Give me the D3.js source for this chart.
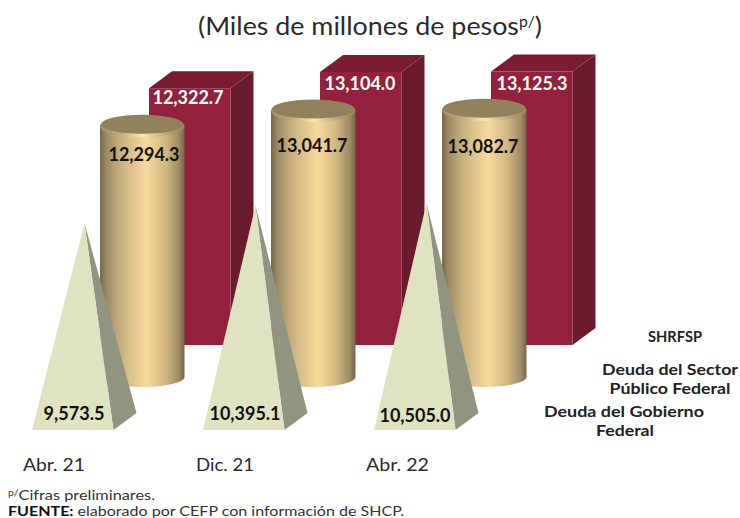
<!DOCTYPE html>
<html><head><meta charset="utf-8">
<script src="https://cdn.jsdelivr.net/npm/d3@7"></script>
<style>html,body{margin:0;background:#fff}svg{display:block}text{font-family:Lato,"Open Sans",sans-serif}</style>
</head><body><svg id="c" width="740" height="518"></svg>
<script>
const categories = ["Abr. 21","Dic. 21","Abr. 22"];
const shrfsp = [12322.7,13104.0,13125.3];
const dspf = [12294.3,13041.7,13082.7];
const dgf = [9573.5,10395.1,10505.0];
const fmt = d3.format(",.1f");
const svg = d3.select("#c");

const band = d3.scaleBand().domain(categories).range([32,545]).padding(0);
const yRed = d3.scaleLinear().domain([0,13125.3]).range([345,71.5]);
const yCyl = d3.scaleLinear().domain([0,13041.7]).range([377,109.5]);
const yPyr = d3.scaleLinear().domain([0,10505]).range([430,203]);

const defs = svg.append("defs");
const g = defs.append("linearGradient").attr("id","cyl");
[[0,"#75664a"],[.08,"#a08c64"],[.25,"#c9b27f"],[.55,"#fad89d"],[.78,"#d0b680"],[.93,"#a08c64"],[1,"#75664a"]]
  .forEach(s=>g.append("stop").attr("offset",s[0]).attr("stop-color",s[1]));
const rim = defs.append("linearGradient").attr("id","rim");
[[0,"#a08e66"],[.25,"#c2ab7c"],[.5,"#fbe6b6"],[.75,"#c2ab7c"],[1,"#94835c"]]
  .forEach(s=>rim.append("stop").attr("offset",s[0]).attr("stop-color",s[1]));

const line = d3.line();
const rw=81.5, dx=23, dy=17;
const red = svg.append("g").selectAll("g").data(categories).join("g");
red.each(function(c,i){
  const s=d3.select(this), x=band(c)+117, t=yRed(shrfsp[i]), b=yRed(0);
  s.append("path").attr("d",line([[x,t],[x+rw,t],[x+rw+dx,t-dy],[x+dx,t-dy]])+"Z").attr("fill","#7b1c33");
  s.append("path").attr("d",line([[x+rw,t],[x+rw+dx,t-dy],[x+rw+dx,b-dy],[x+rw,b]])+"Z").attr("fill","#6a1b2e");
  s.append("rect").attr("x",x).attr("y",t).attr("width",rw).attr("height",b-t).attr("fill","#93203c");
});
const cw=84.5, ry=10;
const cyl = svg.append("g").selectAll("g").data(categories).join("g");
cyl.each(function(c,i){
  const s=d3.select(this), x=band(c)+68, t=yCyl(dspf[i]), b=yCyl(0), r=cw/2;
  s.append("path").attr("d",`M${x},${t}L${x},${b}A${r},${ry} 0 0 0 ${x+cw},${b}L${x+cw},${t}Z`).attr("fill","url(#cyl)");
  s.append("ellipse").attr("cx",x+r).attr("cy",t+1.5).attr("rx",r).attr("ry",ry+1).attr("fill","url(#rim)");
  s.append("ellipse").attr("cx",x+r).attr("cy",t-.5).attr("rx",r-1).attr("ry",ry-.5).attr("fill","#93815b");
});
const pw=81.5;
const pyr = svg.append("g").selectAll("g").data(categories).join("g");
pyr.each(function(c,i){
  const s=d3.select(this), x=band(c), b=yPyr(0), t=yPyr(dgf[i]), ax=x+52.5;
  s.append("path").attr("d",line([[x+pw,b],[x+pw+dx,b-dy],[ax,t]])+"Z").attr("fill","#91957f");
  s.append("path").attr("d",line([[x,b],[x+pw,b],[ax,t]])+"Z").attr("fill","#dfe3c0");
});
const fit=(sel,w)=>sel.attr("textLength",w).attr("lengthAdjust","spacingAndGlyphs");
const lab=(x,y,t,f,sz,w)=>fit(svg.append("text").attr("x",x).attr("y",y).attr("text-anchor","middle")
  .attr("font-size",sz||18).attr("font-weight",700).attr("fill",f).text(t),w);
const redPos=[[188,104],[360,90],[532,90]], cylPos=[[144,161],[312,152],[483,153]], pyrPos=[[74,420],[245,420],[415,422]];
shrfsp.forEach((v,i)=>lab(redPos[i][0],redPos[i][1],fmt(v),"#fff",18,71));
dspf.forEach((v,i)=>lab(cylPos[i][0],cylPos[i][1],fmt(v),"#111",18,71));
dgf.forEach((v,i)=>lab(pyrPos[i][0],pyrPos[i][1],fmt(v),"#111",18,i?71:61));
const catPos=[[54,62],[225,58],[397.5,63]];
categories.forEach((c,i)=>fit(svg.append("text").attr("x",catPos[i][0]).attr("y",471).attr("text-anchor","middle")
  .attr("font-size",17.5).attr("fill","#2a2a2a").text(c),catPos[i][1]));
const title=fit(svg.append("text").attr("x",370).attr("y",35).attr("text-anchor","middle").attr("font-size",25.5).attr("fill","#2a2a2a"),344);
title.append("tspan").text("(Miles de millones de pesos");
title.append("tspan").attr("font-size",15).attr("dy",-8).text("p/");
title.append("tspan").attr("dy",8).text(")");
[["SHRFSP",675,342,54],["Deuda del Sector",670,375,136],["Público Federal",670,394,121],["Deuda del Gobierno",624,417,160],["Federal",625,436,58]]
 .forEach(d=>lab(d[1],d[2],d[0],"#222",15.5,d[3]));
const n1=fit(svg.append("text").attr("x",8).attr("y",500).attr("font-size",14).attr("fill","#333"),147);
n1.append("tspan").attr("font-size",9).attr("dy",-4).text("p/");
n1.append("tspan").attr("dy",4).text("Cifras preliminares.");
const n2=fit(svg.append("text").attr("x",8).attr("y",516).attr("font-size",14).attr("fill","#333"),396);
n2.append("tspan").attr("font-weight",700).attr("fill","#111").text("FUENTE:");
n2.append("tspan").text(" elaborado por CEFP con información de SHCP.");
</script></body></html>
